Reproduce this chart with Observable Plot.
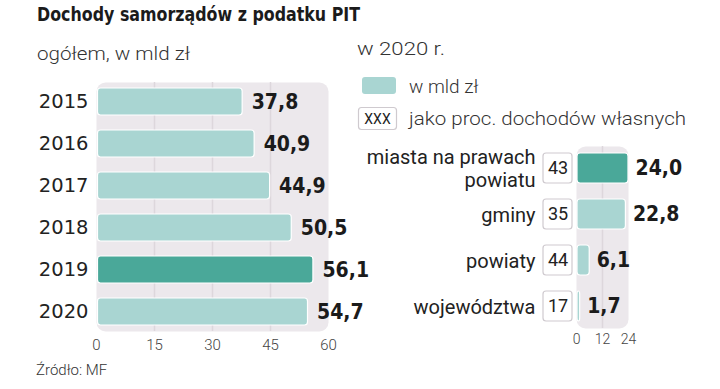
<!DOCTYPE html>
<html><head><meta charset="utf-8">
<script src="https://cdn.jsdelivr.net/npm/d3@7"></script>
<script src="https://cdn.jsdelivr.net/npm/@observablehq/plot@0.6"></script>
<style>
body{margin:0;background:#fff;}
#wrap{position:relative;width:720px;height:389px;overflow:hidden;background:#fff;}
#wrap svg{position:absolute;left:0;top:0;}
</style></head><body>
<div id="wrap"></div>
<script>
// ---- data ----
const years = ["2015", "2016", "2017", "2018", "2019", "2020"];
const totals = [37.8, 40.9, 44.9, 50.5, 56.1, 54.7];
const highlightYear = "2019";
const xTicksLeft = [0, 15, 30, 45, 60];

const units = ["miasta na prawach\npowiatu", "gminy", "powiaty", "województwa"];
const amounts2020 = [24.0, 22.8, 6.1, 1.7];
const shares = [43, 35, 44, 17];
const highlightUnit = "miasta na prawach\npowiatu";
const xTicksRight = [0, 12, 24];

const titleText = "Dochody samorządów z podatku PIT";
const subtitleText = "ogółem, w mld zł";
const rightTitleText = "w 2020 r.";
const legendAmount = "w mld zł";
const legendShare = "jako proc. dochodów własnych";
const legendShareSample = "XXX";
const sourceText = "Źródło: MF";

// ---- styles ----
const LIGHT = "#a9d5d2", DARK = "#4aa899", PANEL = "#ece8ec", GRID = "#ddd7dc";
const BOLDC = "'DejaVu Sans Condensed', 'Liberation Sans Narrow', Roboto, sans-serif";
const fmt = v => v.toFixed(1).replace(".", ",");

const leftData = years.map((y, i) => ({year: y, value: totals[i]}));
const rightData = units.map((u, i) => ({unit: u, value: amounts2020[i], share: shares[i]}));

const wrap = document.getElementById("wrap");

const left = Plot.plot({
  width: 720, height: 389,
  marginLeft: 96, marginRight: 720 - 328, marginTop: 82, marginBottom: 58,
  style: {background: "transparent", fontFamily: "Roboto, sans-serif", overflow: "visible"},
  x: {domain: [0, 60], label: null},
  y: {domain: years, paddingInner: 0.36, paddingOuter: 0.12, label: null},
  color: {type: "identity"},
  marks: [
    Plot.frame({fill: PANEL, stroke: null, rx: 9}),
    Plot.ruleX([15, 30, 45], {stroke: GRID, strokeWidth: 1.5}),
    Plot.barX(leftData, {x: "value", y: "year", fill: d => d.year === highlightYear ? DARK : LIGHT,
      stroke: "#fff", strokeWidth: 1.2, rx: 3, insetLeft: 1.5}),
    Plot.text(leftData, {x: "value", y: "year", text: d => fmt(d.value), textAnchor: "start", dx: 9,
      fontSize: 21, fontWeight: "bold", fontFamily: BOLDC, fill: "#1b1b1b"}),
    Plot.axisX({ticks: xTicksLeft, label: null, tickSize: 0, tickPadding: 8, fontSize: 15, fontWeight: 300, fill: "#444"}),
    Plot.axisY({label: null, tickSize: 0, tickPadding: 8, fontSize: 19.5, fontFamily: "'DejaVu Sans', sans-serif", fill: "#222"})
  ]
});
wrap.appendChild(left);

const right = Plot.plot({
  width: 720, height: 389,
  marginLeft: 576, marginRight: 92, marginTop: 146, marginBottom: 61,
  style: {background: "transparent", fontFamily: "Roboto, sans-serif", overflow: "visible"},
  x: {domain: [0, 24], label: null},
  y: {domain: units, paddingInner: 0.35, paddingOuter: 0.15, label: null},
  color: {type: "identity"},
  marks: [
    Plot.frame({fill: PANEL, stroke: null, rx: 9}),
    Plot.ruleX([12], {stroke: GRID, strokeWidth: 1.5}),
    Plot.barX(rightData, {x: "value", y: "unit", fill: d => d.unit === highlightUnit ? DARK : LIGHT,
      stroke: "#fff", strokeWidth: 1.2, rx: 3, insetLeft: 1}),
    Plot.barX(rightData, {x1: 0, x2: 0, y: "unit", insetLeft: -33, insetRight: 4,
      fill: "#fff", stroke: "#cfcacf", strokeWidth: 1.2, rx: 3}),
    Plot.text(rightData, {x: 0, y: "unit", text: d => String(d.share), dx: -18.5,
      fontSize: 18, fill: "#222"}),
    Plot.text(rightData, {x: "value", y: "unit", text: d => fmt(d.value), textAnchor: "start", dx: 7,
      fontSize: 21, fontWeight: "bold", fontFamily: BOLDC, fill: "#1b1b1b"}),
    Plot.axisX({ticks: xTicksRight, label: null, tickSize: 0, tickPadding: 6, fontSize: 14, fontWeight: 300, fill: "#444"}),
    Plot.axisY({label: null, tickSize: 0, tickPadding: 41, fontSize: 20, lineHeight: 1.12, fill: "#222"})
  ]
});
wrap.appendChild(right);

// ---- titles, legend, source ----
const ov = d3.select(wrap).append("svg").attr("width", 720).attr("height", 389)
  .style("font-family", "Roboto, sans-serif");
function txt(x, y, s, opts = {}) {
  const t = ov.append("text").attr("x", x).attr("y", y).text(s)
    .attr("font-size", opts.size || 19).attr("font-weight", opts.weight || 300)
    .attr("fill", opts.fill || "#222");
  if (opts.family) t.attr("font-family", opts.family);
  if (opts.anchor) t.attr("text-anchor", opts.anchor);
  if (opts.len) t.attr("textLength", opts.len).attr("lengthAdjust", "spacingAndGlyphs");
  return t;
}
txt(37, 21, titleText, {size: 20, weight: "bold", family: BOLDC, fill: "#1b1b1b", len: 323});
txt(37, 60, subtitleText, {size: 19, len: 153, fill: "#333"});
txt(357, 55, rightTitleText, {size: 19, len: 88, fill: "#333"});
ov.append("rect").attr("x", 362).attr("y", 77).attr("width", 34).attr("height", 17).attr("rx", 3).attr("fill", LIGHT);
txt(409, 93, legendAmount, {size: 19, fill: "#333"});
ov.append("rect").attr("x", 358.5).attr("y", 107.5).attr("width", 38).attr("height", 22).attr("rx", 3)
  .attr("fill", "#fff").attr("stroke", "#cfcacf").attr("stroke-width", 1.2);
txt(377.5, 124, legendShareSample, {size: 14, weight: 400, anchor: "middle", fill: "#222"});
txt(409, 125, legendShare, {size: 19, len: 277, fill: "#333"});
txt(36, 375, sourceText, {size: 15, fill: "#333"});
</script>
</body></html>
